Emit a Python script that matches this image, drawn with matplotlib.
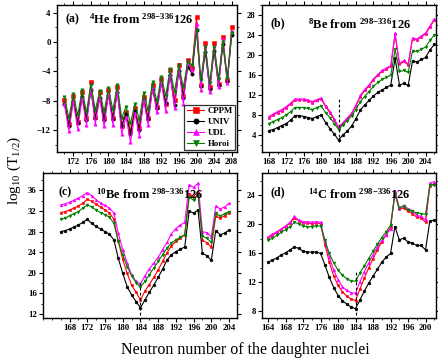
import numpy as np
import matplotlib
matplotlib.use("Agg")
import matplotlib.pyplot as plt
from matplotlib.ticker import MultipleLocator

plt.rcParams['font.family'] = ['Liberation Serif', 'DejaVu Serif']
plt.rcParams['mathtext.fontset'] = 'custom'
plt.rcParams['mathtext.rm'] = 'Liberation Serif'
plt.rcParams['mathtext.bf'] = 'Liberation Serif:bold'
plt.rcParams['mathtext.it'] = 'Liberation Serif:italic'

# ---------------- data ----------------
models = ["CPPM", "UNIV", "UDL", "Horoi"]

N_a = list(range(170, 209))
cppm_a = [-7.9, -11.2, -7.3, -10.9, -6.8, -10.4, -5.4, -10.2, -6.8, -10.4, -6.6, -10.3, -6.2, -11.4,
          -9.6, -12.1, -9.0, -11.7, -7.5, -10.3, -5.8, -8.9, -5.1, -8.4, -3.8, -7.9, -3.1, -7.3,
          -2.5, -3.5, 3.4, -5.8, -0.2, -6.2, -0.1, -5.7, 0.7, -5.2, 2.1]
univ_a = [-8.4, -11.5, -8.0, -11.1, -7.5, -10.6, -6.6, -10.4, -7.6, -10.6, -7.2, -10.5, -6.8, -11.5,
          -9.8, -12.6, -9.4, -12.0, -7.9, -10.5, -6.4, -9.0, -5.6, -8.3, -4.5, -8.6, -3.9, -7.6,
          -3.4, -4.3, 1.7, -6.0, -1.3, -6.4, -1.2, -5.9, -0.3, -5.3, 1.0]
udl_a = [-8.5, -12.1, -8.1, -11.8, -7.6, -11.3, -6.3, -11.2, -7.6, -11.5, -7.1, -11.3, -6.7, -12.5,
         -10.2, -13.7, -9.7, -12.8, -7.9, -11.3, -6.2, -9.6, -5.4, -9.4, -4.2, -9.0, -3.5, -8.4,
         -2.9, -3.8, 2.5, -6.5, -0.6, -6.8, -0.5, -6.2, 0.4, -5.6, 1.5]
horoi_a = [-7.5, -10.4, -7.1, -10.0, -6.6, -9.6, -5.8, -9.3, -6.7, -9.5, -6.3, -9.3, -5.9, -10.4,
           -8.8, -11.1, -8.4, -10.6, -6.9, -9.3, -5.5, -8.1, -4.8, -7.3, -3.7, -6.8, -3.2, -6.2,
           -2.7, -3.2, 1.6, -5.2, -0.7, -5.6, -0.7, -5.0, 0.0, -4.9, 1.2]

N_b = list(range(168, 207))
cppm_b = [7.5, 8.0, 8.5, 8.9, 9.5, 10.2, 11.0, 11.0, 11.0, 10.8, 10.5, 10.9, 11.2, 9.7, 8.5, 7.1,
          5.4, 6.3, 7.2, 8.2, 9.8, 11.7, 12.9, 13.8, 15.0, 15.9, 16.7, 17.2, 17.7, 24.1, 18.1,
          18.7, 18.0, 23.2, 23.0, 23.6, 24.2, 25.6, 27.0]
univ_b = [4.9, 5.1, 5.5, 5.9, 6.3, 7.0, 7.9, 7.9, 7.7, 7.5, 7.3, 7.7, 8.0, 6.5, 5.3, 4.2, 3.0,
          4.0, 4.8, 5.8, 7.3, 9.0, 10.0, 10.9, 11.8, 12.5, 13.0, 13.5, 14.0, 19.3, 14.0, 14.3,
          13.9, 18.8, 18.6, 19.1, 19.5, 21.0, 22.1]
udl_b = [7.7, 8.2, 8.7, 9.1, 9.7, 10.4, 11.2, 11.2, 11.2, 11.0, 10.7, 11.1, 11.4, 9.9, 8.7, 7.3,
         5.6, 6.5, 7.4, 8.4, 10.0, 11.9, 13.1, 14.0, 15.2, 16.1, 16.9, 17.4, 17.9, 24.3, 18.3,
         18.9, 18.2, 23.4, 23.2, 23.8, 24.4, 25.8, 27.2]
horoi_b = [6.3, 6.7, 7.1, 7.5, 8.0, 8.7, 9.5, 9.5, 9.5, 9.3, 9.1, 9.5, 9.8, 8.5, 7.5, 6.3, 5.1,
           6.0, 6.9, 7.8, 9.1, 10.7, 11.7, 12.7, 13.7, 14.5, 15.1, 15.5, 16.0, 21.1, 16.7, 16.9,
           16.5, 20.8, 20.7, 21.1, 21.6, 22.9, 24.0]

N_c = list(range(166, 205))
cppm_c = [31.7, 31.9, 32.2, 32.6, 33.0, 33.5, 34.3, 33.9, 33.3, 32.8, 32.2, 31.6, 30.4, 26.1,
          22.6, 19.9, 17.6, 16.2, 14.7, 16.4, 17.7, 19.1, 20.6, 22.2, 23.9, 25.2, 26.1, 26.7,
          27.4, 35.4, 34.8, 35.8, 26.3, 25.8, 25.0, 31.0, 30.6, 31.1, 31.7]
univ_c = [28.0, 28.2, 28.5, 28.9, 29.3, 29.8, 30.4, 29.6, 29.0, 28.5, 28.0, 27.5, 26.4, 22.8,
          19.9, 17.3, 15.7, 14.4, 13.2, 14.7, 16.2, 17.6, 19.1, 20.7, 22.5, 23.5, 24.1, 24.6,
          25.0, 32.0, 31.6, 32.2, 23.8, 23.3, 22.4, 28.2, 27.4, 27.7, 28.3]
udl_c = [33.2, 33.4, 33.7, 34.1, 34.5, 35.0, 35.6, 35.0, 34.2, 33.5, 33.1, 32.6, 31.6, 27.7,
         24.5, 21.9, 19.6, 18.3, 17.8, 19.4, 20.7, 21.9, 23.0, 24.5, 25.9, 27.6, 28.6, 29.3,
         29.8, 37.1, 36.6, 37.4, 28.0, 27.8, 27.0, 33.0, 32.4, 32.8, 33.5]
horoi_c = [30.4, 30.6, 31.1, 31.5, 31.9, 32.6, 33.2, 32.8, 32.2, 31.7, 31.3, 30.8, 29.6, 26.1,
           23.5, 21.2, 19.4, 18.1, 17.2, 18.3, 19.6, 20.9, 22.2, 23.5, 24.8, 25.8, 26.4, 26.9,
           27.4, 34.7, 34.1, 35.2, 27.1, 26.7, 25.9, 31.6, 31.0, 31.5, 31.9]

N_d = list(range(164, 203))
cppm_d = [18.1, 18.5, 18.9, 19.3, 19.7, 20.2, 20.9, 20.5, 20.2, 20.2, 20.1, 20.2, 20.1, 17.2,
          14.8, 12.9, 11.6, 10.7, 10.1, 9.7, 9.5, 11.1, 12.6, 14.0, 15.3, 16.5, 17.6, 18.6, 19.6,
          24.2, 22.1, 22.3, 21.8, 21.5, 21.0, 20.9, 20.3, 25.3, 25.6]
univ_d = [14.8, 15.1, 15.4, 15.8, 16.1, 16.5, 16.9, 16.7, 16.3, 16.2, 16.2, 16.2, 16.0, 14.4,
          12.7, 11.3, 10.2, 9.5, 9.0, 8.6, 8.4, 9.6, 10.8, 11.9, 12.9, 13.8, 14.8, 15.5, 16.0,
          19.7, 17.9, 18.1, 17.6, 17.4, 17.1, 17.1, 16.5, 20.5, 20.6]
udl_d = [18.3, 18.7, 19.0, 19.4, 19.8, 20.3, 21.1, 20.6, 20.4, 20.4, 20.3, 20.4, 20.3, 17.7,
         15.5, 13.7, 12.4, 11.4, 10.9, 10.6, 10.5, 12.1, 13.5, 14.7, 15.8, 16.9, 17.8, 18.6, 19.4,
         24.6, 22.3, 22.6, 22.2, 21.9, 21.3, 21.1, 20.6, 25.7, 25.9]
horoi_d = [17.8, 18.1, 18.5, 18.9, 19.3, 19.7, 20.3, 20.1, 19.8, 19.7, 19.7, 19.8, 19.8, 17.8,
           16.0, 14.7, 13.7, 13.0, 12.5, 12.2, 12.2, 13.3, 14.3, 15.3, 16.3, 17.3, 18.2, 19.0, 19.9,
           24.2, 22.3, 22.5, 22.0, 21.8, 21.6, 21.5, 21.4, 25.4, 25.5]

# ---------------- styles ----------------
styles = {
    "CPPM": dict(color="#ff0000", marker="s"),
    "UNIV": dict(color="#000000", marker="o"),
    "UDL": dict(color="#ff00ff", marker="^"),
    "Horoi": dict(color="#008000", marker="v"),
}

W, H = 438, 362
fig = plt.figure(figsize=(W / 100, H / 100), dpi=100)


def box(l, r, t, b):
    return [l / W, (H - b) / H, (r - l) / W, (b - t) / H]


def title(a, b):
    return r"$^{\mathbf{%s}}$%s from $^{\mathbf{298{-}336}}$126" % (a, b)


panels = [
    dict(rect=box(57, 237, 5, 152), N=N_a, data=[cppm_a, univ_a, udl_a, horoi_a],
         xlim=(168.3, 209.2), ylim=(-15, 5.05), xt=np.arange(172, 209, 4), yt=np.arange(-12, 5, 4),
         tag="(a)", title=title("4", "He"), ms=2.4,
         tagpos=(0.05, 0.905), titlepos=(0.47, 0.9), dash=None),
    dict(rect=box(262, 436, 5, 152), N=N_b, data=[cppm_b, univ_b, udl_b, horoi_b],
         xlim=(166.4, 206.4), ylim=(0.6, 30), xt=np.arange(168, 207, 4), yt=np.arange(4, 29, 4),
         tag="(b)", title=title("8", "Be"), ms=2.0,
         tagpos=(0.05, 0.875), titlepos=(0.56, 0.87), dash=(2.6, 11.4)),
    dict(rect=box(43, 237, 173, 318), N=N_c, data=[cppm_c, univ_c, udl_c, horoi_c],
         xlim=(162.0, 205.8), ylim=(11.2, 39.4), xt=np.arange(168, 205, 4), yt=np.arange(12, 37, 4),
         tag="(c)", title=title("10", "Be"), ms=2.0,
         tagpos=(0.08, 0.87), titlepos=(0.55, 0.855), dash=(11.8, 18.6)),
    dict(rect=box(262, 436, 173, 318), N=N_d, data=[cppm_d, univ_d, udl_d, horoi_d],
         xlim=(162.6, 202.4), ylim=(7.1, 27.1), xt=np.arange(164, 201, 4), yt=np.arange(8, 25, 4),
         tag="(d)", title=title("14", "C"), ms=2.0,
         tagpos=(0.05, 0.865), titlepos=(0.56, 0.85), dash=(7.5, 13.5)),
]

axes = []
for p in panels:
    ax = fig.add_axes(p["rect"])
    for name, vals in zip(models, p["data"]):
        st = styles[name]
        ax.plot(p["N"], vals, color=st["color"], marker=st["marker"], ms=p["ms"],
                lw=0.8, label=name, markeredgewidth=0.4)
    if p["dash"] is not None:
        ax.plot([184, 184], list(p["dash"]), ls=(0, (2.5, 2)), color="black", lw=0.8)
    ax.set_xlim(*p["xlim"])
    ax.set_ylim(*p["ylim"])
    ax.set_xticks(p["xt"])
    ax.set_yticks(p["yt"])
    ax.xaxis.set_minor_locator(MultipleLocator(2))
    ax.yaxis.set_minor_locator(MultipleLocator(2))
    ax.tick_params(axis="both", which="major", direction="out", length=3, width=0.8,
                   labelsize=6.3, pad=1.5)
    ax.tick_params(axis="both", which="minor", direction="out", length=1.5, width=0.6)
    ax.tick_params(top=True, right=True, which="both")
    for lbl in ax.get_xticklabels() + ax.get_yticklabels():
        lbl.set_fontweight("bold")
    for sp in ax.spines.values():
        sp.set_linewidth(1.0)
    ax.text(*p["tagpos"], p["tag"], transform=ax.transAxes, fontsize=8.5, fontweight="bold",
            va="center", ha="left")
    ax.text(*p["titlepos"], p["title"], transform=ax.transAxes, fontsize=9,
            fontweight="bold", va="center", ha="center")
    axes.append(ax)

leg = axes[0].legend(loc="lower right", frameon=True, fancybox=False,
                     edgecolor="black", handlelength=2.0, borderpad=0.3, labelspacing=0.3,
                     handletextpad=0.35, borderaxespad=0.2, markerscale=1.6,
                     prop={"weight": "bold", "size": 6.3})
leg.get_frame().set_linewidth(0.9)

fig.text(14 / W, 1 - 170 / H, r"log$_{10}$ (T$_{1/2}$)", rotation=90, fontsize=11,
         ha="center", va="center")
fig.text(245 / W, 1 - 350 / H, "Neutron number of the daughter nuclei", fontsize=11.5,
         ha="center", va="center")

fig.savefig("out.png", dpi=100)
